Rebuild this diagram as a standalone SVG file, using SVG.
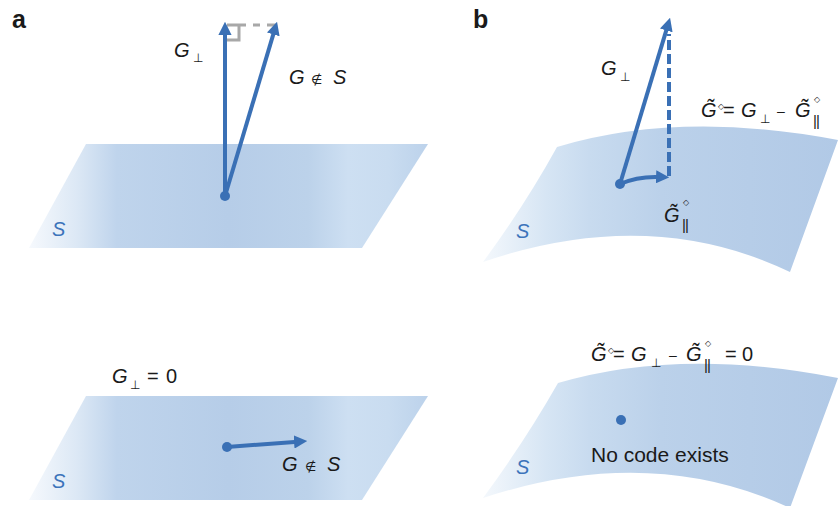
<svg xmlns="http://www.w3.org/2000/svg" width="838" height="506" viewBox="0 0 838 506">
<style>
text{font-family:"Liberation Sans",Arial,"DejaVu Sans",sans-serif;fill:#1a1a1a;font-size:20px}
.m{font-style:italic;font-size:20px}
.r{font-size:20px}
.sub{font-size:12px;font-family:"DejaVu Sans","Liberation Sans",sans-serif}
.ni{font-size:13px;font-family:"DejaVu Sans","Liberation Sans",sans-serif}
.dia{font-size:8px;font-family:"DejaVu Sans",sans-serif}
.bar{font-size:15px}
.dash{font-size:14px}
.s{font-style:italic;font-size:20px;fill:#3d74bb}
.lbl{font-weight:bold;font-size:25px}
.arr{stroke:#3a70b5;stroke-width:4;fill:none;marker-end:url(#ah)}
.dot{fill:#3a70b5}
</style>
<defs>
<marker id="ah" viewBox="0 0 10 10" refX="3" refY="5" markerWidth="3.3" markerHeight="3.3" orient="auto" markerUnits="strokeWidth"><path d="M0,0 L10,5 L0,10 Z" fill="#3a70b5"/></marker>
<linearGradient id="gp" gradientUnits="userSpaceOnUse" x1="29" y1="0" x2="428" y2="0">
<stop offset="0" stop-color="#f6f9fd"/>
<stop offset="0.12" stop-color="#dce8f5"/>
<stop offset="0.22" stop-color="#bfd4ec"/>
<stop offset="0.5" stop-color="#b6cde8"/>
<stop offset="0.7" stop-color="#bcd2ea"/>
<stop offset="0.8" stop-color="#cddff2"/>
<stop offset="0.9" stop-color="#c9dcf0"/>
<stop offset="1" stop-color="#bcd2eb"/>
</linearGradient>
<linearGradient id="gs" gradientUnits="userSpaceOnUse" x1="483" y1="0" x2="838" y2="0">
<stop offset="0" stop-color="#f4f8fc"/>
<stop offset="0.18" stop-color="#d6e5f4"/>
<stop offset="0.3" stop-color="#c8dbef"/>
<stop offset="0.5" stop-color="#bbd1ea"/>
<stop offset="1" stop-color="#b1c9e6"/>
</linearGradient>
</defs>

<text class="lbl" x="12" y="28">a</text>
<text class="lbl" x="473" y="28">b</text>

<g id="plane-a-top">
<polygon points="86,144 428,144 362,248 29,248" fill="url(#gp)"/>
<text class="s" x="52" y="236">S</text>
</g>
<g id="plane-a-bottom">
<polygon points="86,396 428,396 362,500 29,500" fill="url(#gp)"/>
<text class="s" x="52" y="488">S</text>
</g>
<g id="surface-b-top">
<path d="M557,147 Q680,110 838,140 L790,272 Q650,205 483,262 Q525,205 557,147 Z" fill="url(#gs)"/>
<text class="s" x="516" y="238">S</text>
</g>
<g id="surface-b-bottom">
<path d="M558,383 Q680,347 838,378 L790,508 Q650,443 483,498 Q525,441 558,383 Z" fill="url(#gs)"/>
<text class="s" x="516" y="474">S</text>
</g>

<g id="connectors">
<path d="M227,40 H239 V25 H227 M239,25 H246" stroke="#a8a8a8" stroke-width="3" fill="none"/>
<path d="M253,25 H260 M267,25 H277" stroke="#a8a8a8" stroke-width="3" fill="none"/>
<path class="arr" d="M225,196 L225,31"/>
<path class="arr" d="M225,196 L274.4,30.6"/>
<circle class="dot" cx="225" cy="196" r="5"/>
<path class="arr" d="M227,447 L298,441.7"/>
<circle class="dot" cx="227" cy="447" r="5"/>
<path d="M669,176 V34" stroke="#3a70b5" stroke-width="4" stroke-dasharray="10 4" fill="none"/>
<path class="arr" d="M620,184 L667.4,26.6"/>
<path class="arr" d="M620,184 Q638,176 660,177"/>
<circle class="dot" cx="620" cy="184" r="5"/>
<circle class="dot" cx="621" cy="420" r="5"/>
</g>

<g id="labels-a">
<text><tspan class="m" x="174" y="57">G</tspan><tspan class="sub" x="193" y="62">⊥</tspan></text>
<text><tspan class="m" x="289" y="84">G</tspan><tspan class="ni" x="311" y="84">∉</tspan><tspan class="m" x="333" y="84">S</tspan></text>
<text><tspan class="m" x="112" y="383">G</tspan><tspan class="sub" x="130" y="389">⊥</tspan><tspan class="r" x="147" y="383">=</tspan><tspan class="r" x="166" y="383">0</tspan></text>
<text><tspan class="m" x="282" y="471">G</tspan><tspan class="ni" x="305" y="471">∉</tspan><tspan class="m" x="327" y="471">S</tspan></text>
</g>

<g id="labels-b">
<text><tspan class="m" x="601" y="75">G</tspan><tspan class="sub" x="620" y="81">⊥</tspan></text>
<text id="eq-top"><tspan class="m" x="701" y="117">G&#x303;</tspan><tspan class="dia" x="718" y="109">◇</tspan><tspan class="r" x="723" y="117">=</tspan><tspan class="m" x="741" y="117">G</tspan><tspan class="sub" x="760" y="123">⊥</tspan><tspan class="dash" x="777" y="116">–</tspan><tspan class="m" x="795" y="117">G&#x303;</tspan><tspan class="dia" x="814" y="102">◇</tspan><tspan class="bar" x="813" y="126" letter-spacing="-0.8">||</tspan></text>
<text id="eq-gpar"><tspan class="m" x="664" y="222">G&#x303;</tspan><tspan class="dia" x="683" y="205">◇</tspan><tspan class="bar" x="682" y="230" letter-spacing="-0.8">||</tspan></text>
<text id="eq-bottom"><tspan class="m" x="591" y="361">G&#x303;</tspan><tspan class="dia" x="608" y="353">◇</tspan><tspan class="r" x="613" y="361">=</tspan><tspan class="m" x="631" y="361">G</tspan><tspan class="sub" x="651" y="367">⊥</tspan><tspan class="dash" x="669" y="360">–</tspan><tspan class="m" x="686" y="361">G&#x303;</tspan><tspan class="dia" x="705" y="346">◇</tspan><tspan class="bar" x="704" y="370" letter-spacing="-0.8">||</tspan><tspan class="r" x="725" y="361">=</tspan><tspan class="r" x="742" y="361">0</tspan></text>
<text class="r" x="591" y="462" style="font-size:21px">No code exists</text>
</g>
</svg>
